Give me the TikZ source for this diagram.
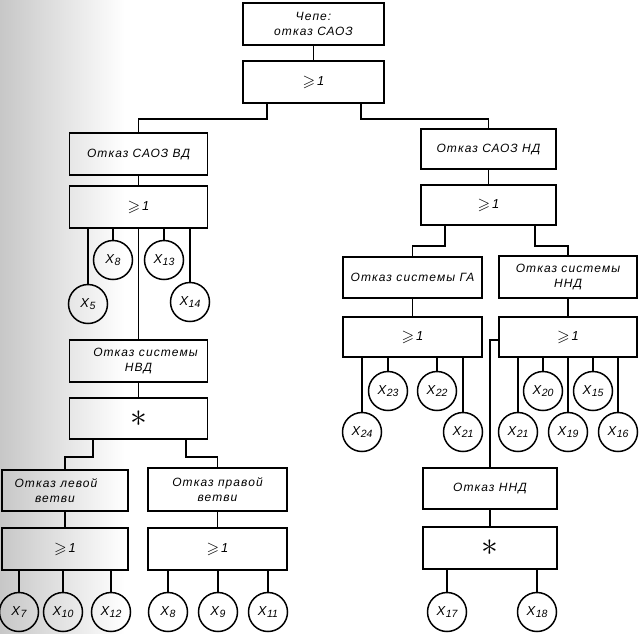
\documentclass[tikz,border=0pt]{standalone}
\usepackage{fontspec}
\setmainfont{Liberation Sans}
\newfontfamily\df[LetterSpace=9]{Liberation Sans}
\usepackage{amssymb}
\newcommand{\xx}[1]{X\kern0.5pt\raisebox{-2.5pt}{\fontsize{10.5}{10.5}\selectfont #1}}
\newcommand{\geone}{\raisebox{-1pt}{\scalebox{1.35}{$\geqslant$}}\,{\fontsize{13}{13}\selectfont 1}}
\newcommand{\starmark}{\scalebox{2.8}{$\ast$}}
\tikzset{
  box/.style={draw, line width=1.5pt, inner sep=0pt, align=center,
    font=\df\itshape\fontsize{12}{14.5}\selectfont},
  ev/.style={draw, circle, line width=1.5pt, minimum size=39pt, inner sep=0pt,
    font=\itshape\fontsize{13}{13}\selectfont},
  wire/.style={line width=1.5pt}
}
\begin{document}
\begin{tikzpicture}[x=1pt,y=-1pt]
\useasboundingbox (0,0) rectangle (639,633);
\shade[left color=black!22, right color=white, draw=none] (0,0) rectangle (125,633);
% top part
\node[box, minimum width=141pt, minimum height=42pt] (top) at (313.5,24) {Чепе:\\отказ САОЗ};
\node[box, minimum width=141pt, minimum height=42pt] (or0) at (313.5,82) {\geone};
% left main branch
\node[box, minimum width=138pt, minimum height=42pt] (vd) at (138.5,154) {Отказ САОЗ ВД};
\node[box, minimum width=138pt, minimum height=42pt] (orvd) at (138.5,207) {\geone};
\node[box, minimum width=138pt, minimum height=42pt] (nvd) at (138.5,361) {\hspace*{14pt}Отказ системы\\НВД};
\node[box, minimum width=138pt, minimum height=41pt] (star1) at (138.5,418.5) {\starmark};
\node[box, minimum width=126pt, minimum height=41pt] (lb) at (65,490.5) {Отказ левой\hspace*{18pt}\\ветви\hspace*{20pt}};
\node[box, minimum width=126pt, minimum height=42pt] (orlb) at (65,549) {\geone};
\node[box, minimum width=139pt, minimum height=43pt] (rb) at (217.5,489.5) {Отказ правой\\ветви};
\node[box, minimum width=139pt, minimum height=42pt] (orrb) at (217.5,549) {\geone};
% right main branch
\node[box, minimum width=135pt, minimum height=40pt] (nd) at (488.5,149) {Отказ САОЗ НД};
\node[box, minimum width=135pt, minimum height=40pt] (ornd) at (488.5,205) {\geone};
\node[box, minimum width=139pt, minimum height=41pt] (ga) at (412.5,277.5) {Отказ системы ГА};
\node[box, minimum width=139pt, minimum height=40pt] (orga) at (412.5,337) {\geone};
\node[box, minimum width=138pt, minimum height=42pt] (nnd) at (568,277) {Отказ системы\\ННД};
\node[box, minimum width=138pt, minimum height=40pt] (ornnd) at (568,337) {\geone};
\node[box, minimum width=134pt, minimum height=41pt] (ond) at (490,488.5) {Отказ ННД};
\node[box, minimum width=134pt, minimum height=42pt] (star2) at (490,548) {\starmark};
% events
\node[ev] (x5) at (88,304) {\xx{5}};
\node[ev] (x8a) at (113,260) {\xx{8}};
\node[ev] (x13) at (164,260) {\xx{13}};
\node[ev] (x14) at (190,302) {\xx{14}};
\node[ev] (x7) at (19,612) {\xx{7}};
\node[ev] (x10) at (63,612) {\xx{10}};
\node[ev] (x12) at (111,612) {\xx{12}};
\node[ev] (x8b) at (168,612) {\xx{8}};
\node[ev] (x9) at (218,612) {\xx{9}};
\node[ev] (x11) at (268,612) {\xx{11}};
\node[ev] (x24) at (362,432) {\xx{24}};
\node[ev] (x23) at (388,391) {\xx{23}};
\node[ev] (x22) at (437,391) {\xx{22}};
\node[ev] (x21a) at (463,432) {\xx{21}};
\node[ev] (x21b) at (518,432) {\xx{21}};
\node[ev] (x20) at (543,391) {\xx{20}};
\node[ev] (x19) at (568,432) {\xx{19}};
\node[ev] (x15) at (593,391) {\xx{15}};
\node[ev] (x16) at (618,432) {\xx{16}};
\node[ev] (x17) at (447,612) {\xx{17}};
\node[ev] (x18) at (537,612) {\xx{18}};
% connectors
\begin{scope}[wire]
\draw (top) -- (or0);
\draw ([xshift=-46.5pt]or0.south) -- ++(0,15) -| (vd.north);
\draw ([xshift=47.5pt]or0.south) -- ++(0,15) -| (nd.north);
\draw (vd) -- (orvd);
\draw (orvd.south) -- (nvd.north);
\foreach \e in {x5,x8a,x13,x14} \draw (\e.north) -- (\e.north |- orvd.south);
\draw (nvd) -- (star1);
\draw ([xshift=-45.5pt]star1.south) -- ++(0,17) -| (lb.north);
\draw ([xshift=47.5pt]star1.south) -- ++(0,17) -| (rb.north);
\draw (lb) -- (orlb);
\draw (rb) -- (orrb);
\foreach \e in {x7,x10,x12} \draw (\e.north) -- (\e.north |- orlb.south);
\foreach \e in {x8b,x9,x11} \draw (\e.north) -- (\e.north |- orrb.south);
\draw (nd) -- (ornd);
\draw ([xshift=-43.5pt]ornd.south) -- ++(0,20) -| (ga.north);
\draw ([xshift=46.5pt]ornd.south) -- ++(0,20) -| (nnd.north);
\draw (ga) -- (orga);
\draw (nnd) -- (ornnd);
\foreach \e in {x24,x23,x22,x21a} \draw (\e.north) -- (\e.north |- orga.south);
\foreach \e in {x21b,x20,x19,x15,x16} \draw (\e.north) -- (\e.north |- ornnd.south);
\draw ([yshift=-3pt]ornnd.west) -| (ond.north);
\draw (ond) -- (star2);
\foreach \e in {x17,x18} \draw (\e.north) -- (\e.north |- star2.south);
\end{scope}
\end{tikzpicture}
\end{document}
